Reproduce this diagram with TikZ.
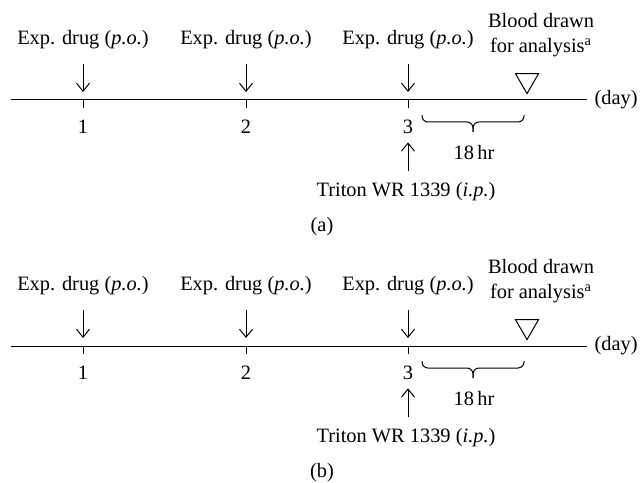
\documentclass[tikz,border=0pt]{standalone}
\usepackage{fontspec}
\setmainfont{Liberation Serif}
\usetikzlibrary{arrows.meta,positioning,shapes.geometric}

\begin{document}
\begin{tikzpicture}[x = 0.5pt, y = 0.5pt, line width = 0.5pt,
        font = \fontsize{10.2}{12.5}\selectfont,
        every node/.style = {inner sep = 0pt},
        dose/.style = {-{Straight Barb[length = 4pt, width = 6.5pt]}},
        sample/.style = {draw, regular polygon, regular polygon sides = 3, shape border rotate = 180, minimum size = 13.3pt}]
        \useasboundingbox (0,0) rectangle (640,482);
        \foreach \panel/\dy in {a/0, b/-246} {
        \begin{scope}[shift = {(0,\dy)}]
        % time axis
        \coordinate (axisstart-\panel) at (11,382);
        \coordinate (axisend-\panel) at (587,382);
        \path [draw] (axisstart-\panel) -- (axisend-\panel);
        \node (unit-\panel) at (594,382) [anchor = west] {(day)};
        \foreach \d/\x in {1/83, 2/246, 3/408} {
            \coordinate (tick\d-\panel) at (\x,382);
            \path [draw] (tick\d-\panel) -- ++(0,-8);
            \node (day\d-\panel) at (\x,355) {\d};
            \node (drug\d-\panel) at (\x,442) {Exp. drug (\textit{p.o.})};
            \path [draw, dose, shorten <= 7pt, shorten >= 4pt] (drug\d-\panel) -- (tick\d-\panel);
        }
        % triton injection on day 3
        \node (triton-\panel) at (406,290) {Triton WR 1339 (\textit{i.p.})};
        \path [draw, dose, shorten <= 5.5pt, shorten >= 4pt] (triton-\panel.north -| tick3-\panel) -- (day3-\panel);
        % blood sampling, 18 hr after the last dose
        \node (blood-\panel) at (541,447) [align = center] {Blood drawn \\ for analysis\textsuperscript{a}};
        \node (mark-\panel) at (527,401.7) [sample] {};
        \coordinate (spanstart-\panel) at (422,367);
        \coordinate (spanend-\panel) at (524,367);
        \path [draw, rounded corners = 3pt] (spanstart-\panel) -- ++(0,-7) -- ++(51,0) -- ++(0,-10);
        \path [draw, rounded corners = 3pt] (spanend-\panel) -- ++(0,-7) -- ++(-51,0) -- ++(0,-10);
        \node (span-\panel) at (474,329) {18\,hr};
        \node (caption-\panel) at (322,255) {(\panel)};
        \end{scope}
        }
    \end{tikzpicture}
\end{document}
